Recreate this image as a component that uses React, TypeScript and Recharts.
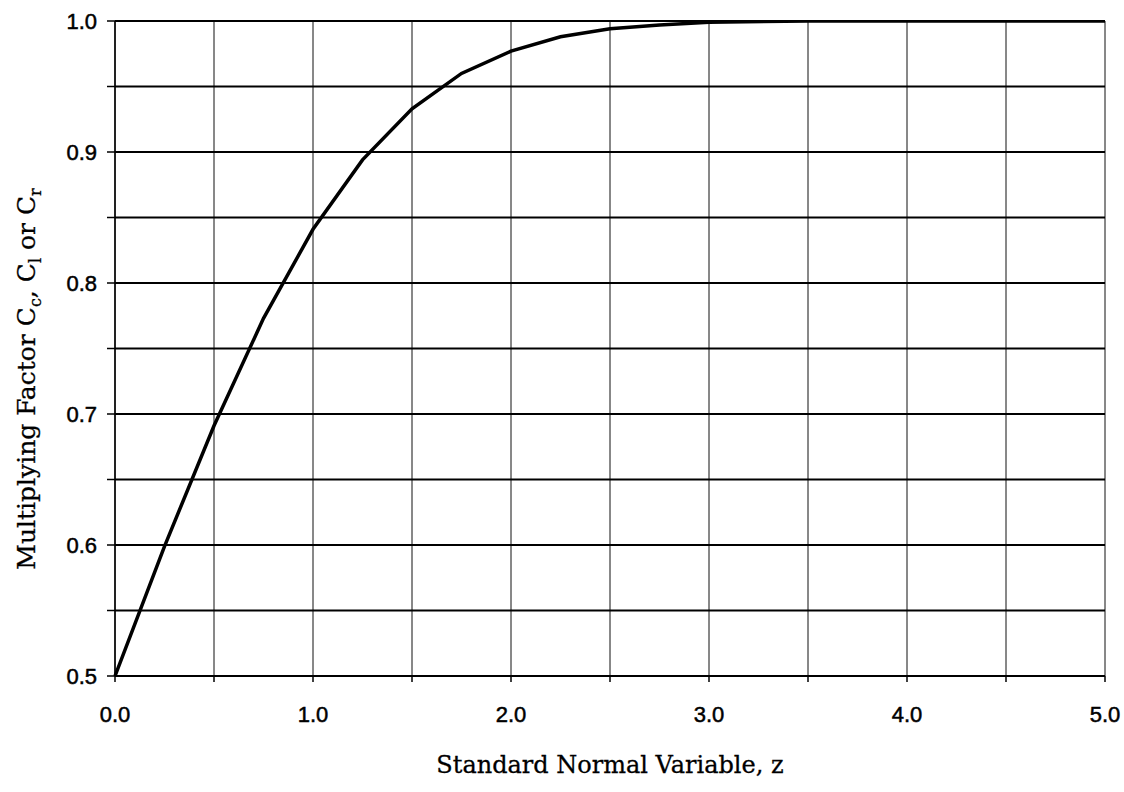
import { CartesianGrid, Label, Line, LineChart, XAxis, YAxis } from "recharts";

// standard normal variable z and the multiplying factor
const zValues = [0, 0.25, 0.5, 0.75, 1.0, 1.25, 1.5, 1.75, 2.0, 2.25, 2.5, 2.75, 3.0, 3.5, 4.0, 4.5, 5.0];
const factorValues = [0.5, 0.599, 0.691, 0.773, 0.841, 0.894, 0.933, 0.96, 0.977, 0.988, 0.994, 0.997, 0.999, 1.0, 1.0, 1.0, 1.0];

const xTicks = [0, 0.5, 1, 1.5, 2, 2.5, 3, 3.5, 4, 4.5, 5];
const yTicks = [0.5, 0.55, 0.6, 0.65, 0.7, 0.75, 0.8, 0.85, 0.9, 0.95, 1.0];

const data = zValues.map((z, i) => ({ z, c: factorValues[i] }));

const tickFont = "'Liberation Sans', Arial, sans-serif";
const labelFont = "'DejaVu Serif', 'Liberation Serif', serif";

const XTick = (props: any) => {
  const { x, y, payload } = props;
  const v = payload.value;
  if (Math.abs(v - Math.round(v)) > 1e-6) return null;
  return (
    <text x={x} y={y + 38} textAnchor="middle" fontFamily={tickFont} fontSize={22}
      fill="#000" stroke="#000" strokeWidth={0.5}>
      {v.toFixed(1)}
    </text>
  );
};

const YTick = (props: any) => {
  const { x, y, payload } = props;
  const v = payload.value;
  if (Math.round(v * 100) % 10 !== 0) return null;
  return (
    <text x={x - 8} y={y} dy="0.36em" textAnchor="end" fontFamily={tickFont} fontSize={22}
      fill="#000" stroke="#000" strokeWidth={0.5}>
      {v.toFixed(1)}
    </text>
  );
};

const YTitle = () => (
  <text
    transform="translate(35, 379) rotate(-90)"
    textAnchor="middle"
    fontFamily={labelFont}
    fontSize={25}
    fill="#000"
    stroke="#000"
    strokeWidth={0.3}
  >
    Multiplying Factor C
    <tspan dy={6} fontSize={16}>c</tspan>
    <tspan dy={-6}>,  C</tspan>
    <tspan dy={6} fontSize={16}>l</tspan>
    <tspan dy={-6}>  or  C</tspan>
    <tspan dy={6} fontSize={16}>r</tspan>
  </text>
);

const XTitle = () => (
  <text x={610} y={773} textAnchor="middle" fontFamily={labelFont} fontSize={24}
    fill="#000" stroke="#000" strokeWidth={0.3}>
    Standard Normal Variable, z
  </text>
);

export default function App() {
  return (
    <div style={{ position: "absolute", left: 0, top: 0, background: "#fff" }}>
      <LineChart
        width={1124}
        height={792}
        data={data}
        margin={{ top: 21, right: 19, bottom: 36, left: 0 }}
      >
        <CartesianGrid horizontal={false} stroke="#111" strokeWidth={1} />
        <CartesianGrid vertical={false} stroke="#000" strokeWidth={2} />
        <XAxis
          dataKey="z"
          type="number"
          domain={[0, 5]}
          ticks={xTicks}
          height={80}
          tickSize={6}
          axisLine={{ stroke: "#000", strokeWidth: 2 }}
          tickLine={{ stroke: "#000", strokeWidth: 1.5 }}
          tick={<XTick />}
          interval={0}
        >
          <Label content={<XTitle />} />
        </XAxis>
        <YAxis
          type="number"
          domain={[0.5, 1.0]}
          ticks={yTicks}
          width={115}
          tickSize={8}
          axisLine={{ stroke: "#000", strokeWidth: 1.5 }}
          tickLine={{ stroke: "#000", strokeWidth: 1.5 }}
          tick={<YTick />}
          interval={0}
          allowDataOverflow
        >
          <Label content={<YTitle />} />
        </YAxis>
        <Line
          type="linear"
          dataKey="c"
          stroke="#000"
          strokeWidth={3.5}
          dot={false}
          isAnimationActive={false}
        />
      </LineChart>
    </div>
  );
}
